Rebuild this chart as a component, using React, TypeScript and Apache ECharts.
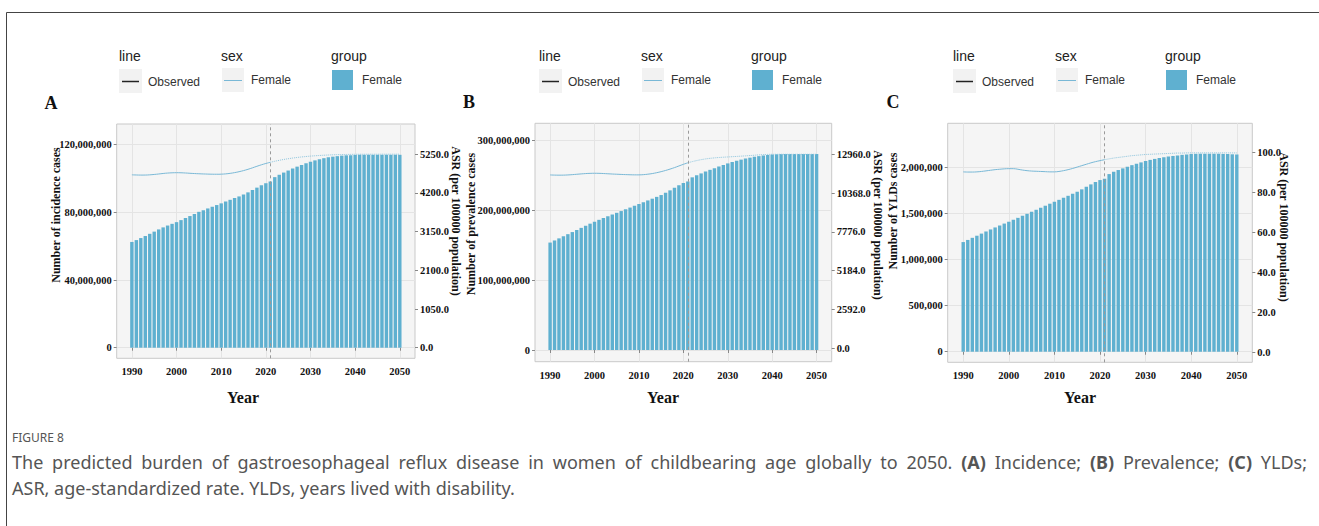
import React, { useEffect, useRef } from "react";
import * as echarts from "echarts";

const START_YEAR = 1990;
const YEARS: number[] = Array.from({ length: 61 }, (_, i) => START_YEAR + i);
const OBSERVED_END = 2021;
const X_TICKS = [1990, 2000, 2010, 2020, 2030, 2040, 2050];

// Panel A: incidence cases (millions) and ASR per 100000
const incidenceMillions = [
  62.5, 63.6, 64.8, 66.0, 67.3, 68.6, 69.9, 71.1, 72.2, 73.2,
  74.2, 75.4, 76.6, 77.8, 79.0, 80.3, 81.3, 82.3, 83.3, 84.3,
  85.3, 86.4, 87.4, 88.4, 89.4, 90.5, 91.8, 93.2, 94.6, 96.0,
  97.2, 98.2, 100.8, 102.2, 103.5, 104.7, 105.9, 107.0, 108.0, 109.0,
  109.9, 110.7, 111.4, 112.0, 112.5, 112.9, 113.2, 113.5, 113.7, 113.8,
  113.9, 114.0, 114.0, 114.0, 114.0, 114.0, 114.0, 114.0, 114.0, 114.0, 114.0,
];
const asrIncidence = [
  4690, 4686, 4683, 4684, 4690, 4700, 4713, 4727, 4738, 4745,
  4748, 4746, 4740, 4732, 4725, 4719, 4714, 4710, 4707, 4706,
  4708, 4716, 4730, 4750, 4775, 4805, 4840, 4880, 4922, 4962,
  4998, 5030, 5058, 5084, 5107, 5127, 5145, 5161, 5175, 5187,
  5198, 5207, 5215, 5222, 5228, 5233, 5237, 5240, 5243, 5245,
  5247, 5248, 5248, 5249, 5249, 5249, 5250, 5250, 5250, 5250, 5250,
];

// Panel B: prevalence cases (millions) and ASR per 100000
const prevalenceMillions = [
  153.5, 156.5, 159.5, 162.5, 165.5, 168.5, 171.5, 174.5, 177.5, 180.5,
  183.3, 186.0, 188.6, 191.1, 193.6, 196.0, 198.5, 201.0, 203.5, 206.0,
  208.6, 211.2, 213.7, 216.2, 218.8, 221.4, 224.6, 228.1, 231.8, 235.4,
  238.6, 240.8, 246.7, 249.6, 252.3, 254.9, 257.4, 259.8, 262.2, 264.5,
  266.6, 268.6, 270.4, 272.0, 273.5, 274.8, 276.0, 277.0, 277.9, 278.6,
  279.2, 279.6, 279.9, 280.0, 280.0, 280.0, 280.0, 280.0, 280.0, 280.0, 280.0,
];
const asrPrevalence = [
  11580, 11570, 11565, 11568, 11580, 11600, 11625, 11650, 11672, 11686,
  11692, 11688, 11675, 11658, 11642, 11628, 11615, 11603, 11593, 11586,
  11585, 11600, 11630, 11672, 11730, 11800, 11880, 11970, 12070, 12180,
  12290, 12390, 12470, 12540, 12600, 12650, 12690, 12720, 12745, 12765,
  12782, 12800, 12818, 12836, 12855, 12875, 12898, 12920, 12940, 12952,
  12958, 12960, 12960, 12960, 12960, 12960, 12960, 12960, 12960, 12960, 12960,
];

// Panel C: YLDs (thousands) and ASR per 100000
const yldsThousands = [
  1192, 1215, 1238, 1261, 1284, 1307, 1329, 1351, 1372, 1393,
  1413, 1434, 1455, 1477, 1499, 1521, 1543, 1565, 1587, 1609,
  1630, 1651, 1673, 1695, 1717, 1739, 1765, 1792, 1819, 1845,
  1866, 1880, 1931, 1955, 1975, 1993, 2011, 2028, 2044, 2058,
  2072, 2085, 2096, 2106, 2114, 2121, 2128, 2134, 2140, 2145,
  2149, 2151, 2152, 2152, 2152, 2152, 2151, 2150, 2148, 2146, 2144,
];
const asrYlds = [
  90.3, 90.2, 90.2, 90.3, 90.5, 90.8, 91.1, 91.4, 91.6, 91.8,
  91.9, 91.9, 91.6, 91.2, 90.9, 90.7, 90.6, 90.5, 90.4, 90.3,
  90.3, 90.5, 90.9, 91.4, 92.0, 92.7, 93.4, 94.1, 94.8, 95.4,
  95.9, 96.4, 96.8, 97.2, 97.5, 97.8, 98.1, 98.4, 98.6, 98.8,
  99.0, 99.1, 99.2, 99.3, 99.4, 99.5, 99.6, 99.7, 99.7, 99.8,
  99.8, 99.8, 99.8, 99.8, 99.8, 99.8, 99.8, 99.8, 99.8, 99.8, 99.8,
];

const LEFT_TICKS_A = [0, 40000000, 80000000, 120000000];
const RIGHT_TICKS_A = [0, 1050, 2100, 3150, 4200, 5250];
const LEFT_TICKS_B = [0, 100000000, 200000000, 300000000];
const RIGHT_TICKS_B = [0, 2592, 5184, 7776, 10368, 12960];
const LEFT_TICKS_C = [0, 500000, 1000000, 1500000, 2000000];
const RIGHT_TICKS_C = [0, 20, 40, 60, 80, 100];

const CAPTION_LABEL = "FIGURE 8";
const CAPTION_LINE_1 =
  "The predicted burden of gastroesophageal reflux disease in women of childbearing age globally to 2050. (A) Incidence; (B) Prevalence; (C) YLDs;";
const CAPTION_LINE_2 = "ASR, age-standardized rate. YLDs, years lived with disability.";

const BAR_COLOR = "#5fb0d0";
const LINE_COLOR = "#79b8d6";
const SERIF = "'Liberation Serif', 'Times New Roman', serif";
const SANS = "'Liberation Sans', Arial, sans-serif";
const CAP_FONT = "'Noto Sans', 'Open Sans', sans-serif";
const CAP_SIZE = 18;

const panels = [
  {
    letter: "A", letterPos: [51, 103], legendDx: 0,
    grid: { left: 116.7, top: 124, width: 298.3, height: 234.3 },
    bars: incidenceMillions.map((v) => v * 1e6), asr: asrIncidence,
    leftMin: -6.26e6, leftMax: 132.2e6, leftTicks: LEFT_TICKS_A,
    rightMin: -287, rightMax: 6069, rightTicks: RIGHT_TICKS_A,
    leftTitle: "Number of incidence cases", leftTitlePos: [55.5, 215],
    rightTitlePos: [456, 221], yearPos: [243, 397],
  },
  {
    letter: "B", letterPos: [469, 102], legendDx: 420,
    grid: { left: 535, top: 123.3, width: 296.7, height: 238.4 },
    bars: prevalenceMillions.map((v) => v * 1e6), asr: asrPrevalence,
    leftMin: -16.7e6, leftMax: 323.9e6, leftTicks: LEFT_TICKS_B,
    rightMin: -895, rightMax: 15030, rightTicks: RIGHT_TICKS_B,
    leftTitle: "Number of prevalence cases", leftTitlePos: [471, 224],
    rightTitlePos: [878, 225], yearPos: [663, 397],
  },
  {
    letter: "C", letterPos: [893, 102], legendDx: 834,
    grid: { left: 947.7, top: 123.3, width: 304.6, height: 239 },
    bars: yldsThousands.map((v) => v * 1e3), asr: asrYlds,
    leftMin: -115000, leftMax: 2483000, leftTicks: LEFT_TICKS_C,
    rightMin: -5, rightMax: 114.6, rightTicks: RIGHT_TICKS_C,
    leftTitle: "Number of YLDs cases", leftTitlePos: [892.5, 211],
    rightTitlePos: [1284, 227], yearPos: [1080, 397],
  },
];

function txt(x: number, y: number, text: string, opts: any = {}) {
  const align = opts.align || "left";
  const va = opts.verticalAlign || "middle";
  return {
    type: "text",
    x,
    y,
    rotation: opts.rotation || 0,
    silent: true,
    style: {
      text,
      fill: opts.fill || "#222",
      fontSize: opts.fontSize || 12,
      fontFamily: opts.fontFamily || SANS,
      fontWeight: opts.fontWeight || "normal",
      align,
      textAlign: align,
      verticalAlign: va,
      textVerticalAlign: va,
    },
  };
}

function legendElements(dx: number) {
  const els: any[] = [];
  els.push(txt(119 + dx, 56, "line", { fontSize: 14, fill: "#222" }));
  els.push(txt(221 + dx, 56, "sex", { fontSize: 14, fill: "#222" }));
  els.push(txt(331 + dx, 56, "group", { fontSize: 14, fill: "#222" }));
  els.push({ type: "rect", silent: true, shape: { x: 119 + dx, y: 69, width: 23, height: 24 }, style: { fill: "#f2f2f2" } });
  els.push({ type: "line", silent: true, shape: { x1: 122 + dx, y1: 81.5, x2: 139 + dx, y2: 81.5 }, style: { stroke: "#222", lineWidth: 1.5 } });
  els.push(txt(148 + dx, 82, "Observed", { fontSize: 12, fill: "#333" }));
  els.push({ type: "rect", silent: true, shape: { x: 222 + dx, y: 68, width: 22, height: 24 }, style: { fill: "#f2f2f2" } });
  els.push({ type: "line", silent: true, shape: { x1: 224 + dx, y1: 80.5, x2: 242 + dx, y2: 80.5 }, style: { stroke: LINE_COLOR, lineWidth: 1 } });
  els.push(txt(251 + dx, 80, "Female", { fontSize: 12, fill: "#333" }));
  els.push({ type: "rect", silent: true, shape: { x: 332 + dx, y: 70, width: 21, height: 20 }, style: { fill: BAR_COLOR } });
  els.push(txt(362 + dx, 80, "Female", { fontSize: 12, fill: "#333" }));
  return els;
}

function captionElements() {
  const els: any[] = [];
  els.push(txt(12, 437, CAPTION_LABEL, { fontSize: 12, fill: "#555", fontFamily: CAP_FONT }));
  // justified first line
  const canvas = document.createElement("canvas");
  const ctx = canvas.getContext("2d") as CanvasRenderingContext2D;
  const words = CAPTION_LINE_1.split(" ");
  const isBold = (w: string) => /^\([ABC]\)$/.test(w);
  const widths = words.map((w) => {
    ctx.font = `${isBold(w) ? "bold " : ""}${CAP_SIZE}px 'Noto Sans'`;
    return ctx.measureText(w).width;
  });
  const x0 = 12;
  const x1 = 1307;
  const total = widths.reduce((a, b) => a + b, 0);
  const gap = Math.max(4, (x1 - x0 - total) / (words.length - 1));
  let x = x0;
  words.forEach((w, i) => {
    els.push(txt(x, 462, w, { fontSize: CAP_SIZE, fill: "#555", fontFamily: CAP_FONT, fontWeight: isBold(w) ? "bold" : "normal" }));
    x += widths[i] + gap;
  });
  els.push(txt(12, 488, CAPTION_LINE_2, { fontSize: CAP_SIZE, fill: "#555", fontFamily: CAP_FONT }));
  return els;
}

const tickLabel = {
  fontFamily: SERIF,
  fontWeight: "bold",
  fontSize: 10.5,
  color: "#111",
};

export default function App() {
  const ref = useRef<HTMLDivElement>(null);
  useEffect(() => {
    document.body.style.margin = "0";
    if (!ref.current) return;
    const chart = echarts.init(ref.current, null, { renderer: "svg" });

    const grids: any[] = [];
    const xAxes: any[] = [];
    const yAxes: any[] = [];
    const series: any[] = [];
    let graphics: any[] = [
      { type: "line", silent: true, shape: { x1: 6.5, y1: 12.5, x2: 1319, y2: 12.5 }, style: { stroke: "#444", lineWidth: 1 } },
      { type: "line", silent: true, shape: { x1: 6.5, y1: 12.5, x2: 6.5, y2: 526 }, style: { stroke: "#444", lineWidth: 1 } },
    ];

    panels.forEach((p, i) => {
      grids.push({
        ...p.grid,
        show: true,
        backgroundColor: "#f5f5f5",
        borderColor: "#c9c9c9",
        borderWidth: 1,
        containLabel: false,
      });
      xAxes.push({
        type: "value",
        gridIndex: i,
        min: 1986.6,
        max: 2053.4,
        axisLine: { show: false },
        axisTick: { show: true, length: 3, lineStyle: { color: "#888" }, customValues: X_TICKS },
        axisLabel: { ...tickLabel, margin: 8, customValues: X_TICKS, formatter: (v: number) => String(Math.round(v)) },
        splitLine: { show: true, lineStyle: { color: "#e4e4e4", width: 1 } },
      });
      yAxes.push({
        type: "value",
        gridIndex: i,
        position: "left",
        min: p.leftMin,
        max: p.leftMax,
        axisLine: { show: false },
        axisTick: { show: true, length: 3, lineStyle: { color: "#888" }, customValues: p.leftTicks },
        axisLabel: {
          ...tickLabel,
          margin: 5,
          customValues: p.leftTicks,
          formatter: (v: number) => Math.round(v).toLocaleString("en-US"),
        },
        splitLine: { show: true, lineStyle: { color: "#e4e4e4", width: 1 } },
      });
      yAxes.push({
        type: "value",
        gridIndex: i,
        position: "right",
        min: p.rightMin,
        max: p.rightMax,
        axisLine: { show: false },
        axisTick: { show: true, length: 3, lineStyle: { color: "#888" }, customValues: p.rightTicks },
        axisLabel: {
          ...tickLabel,
          margin: 5,
          customValues: p.rightTicks,
          formatter: (v: number) => v.toFixed(1),
        },
        splitLine: { show: false },
      });
      series.push({
        type: "bar",
        xAxisIndex: i,
        yAxisIndex: 2 * i,
        barWidth: 3.4,
        itemStyle: { color: BAR_COLOR },
        data: YEARS.map((y, k) => [y, p.bars[k]]),
        markLine: {
          silent: true,
          symbol: ["none", "none"],
          label: { show: false },
          lineStyle: { type: [3, 3], color: "#9a9a9a", width: 1 },
          data: [{ xAxis: OBSERVED_END }],
        },
        z: 2,
      });
      series.push({
        type: "line",
        xAxisIndex: i,
        yAxisIndex: 2 * i + 1,
        smooth: 0.4,
        showSymbol: false,
        lineStyle: { color: LINE_COLOR, width: 1 },
        data: YEARS.filter((y) => y <= OBSERVED_END).map((y) => [y, p.asr[y - START_YEAR]]),
        z: 3,
      });
      series.push({
        type: "line",
        xAxisIndex: i,
        yAxisIndex: 2 * i + 1,
        smooth: 0.4,
        showSymbol: false,
        lineStyle: { color: "#8cc4dd", width: 1, type: "dotted" },
        data: YEARS.filter((y) => y >= OBSERVED_END).map((y) => [y, p.asr[y - START_YEAR]]),
        z: 3,
      });

      graphics = graphics.concat(legendElements(p.legendDx));
      graphics.push(txt(p.letterPos[0], p.letterPos[1], p.letter, { fontSize: 18, fontFamily: SERIF, fontWeight: "bold", fill: "#111", align: "center" }));
      graphics.push(txt(p.leftTitlePos[0], p.leftTitlePos[1], p.leftTitle, { fontSize: 12, fontFamily: SERIF, fontWeight: "bold", fill: "#111", align: "center", rotation: Math.PI / 2 }));
      graphics.push(txt(p.rightTitlePos[0], p.rightTitlePos[1], "ASR (per 100000 population)", { fontSize: 12, fontFamily: SERIF, fontWeight: "bold", fill: "#111", align: "center", rotation: -Math.PI / 2 }));
      graphics.push(txt(p.yearPos[0], p.yearPos[1], "Year", { fontSize: 16, fontFamily: SERIF, fontWeight: "bold", fill: "#111", align: "center" }));
    });

    graphics = graphics.concat(captionElements());

    chart.setOption({
      animation: false,
      backgroundColor: "#ffffff",
      grid: grids,
      xAxis: xAxes,
      yAxis: yAxes,
      series,
      graphic: { elements: graphics },
    });
    return () => chart.dispose();
  }, []);
  return <div ref={ref} style={{ width: 1319, height: 526 }} />;
}
